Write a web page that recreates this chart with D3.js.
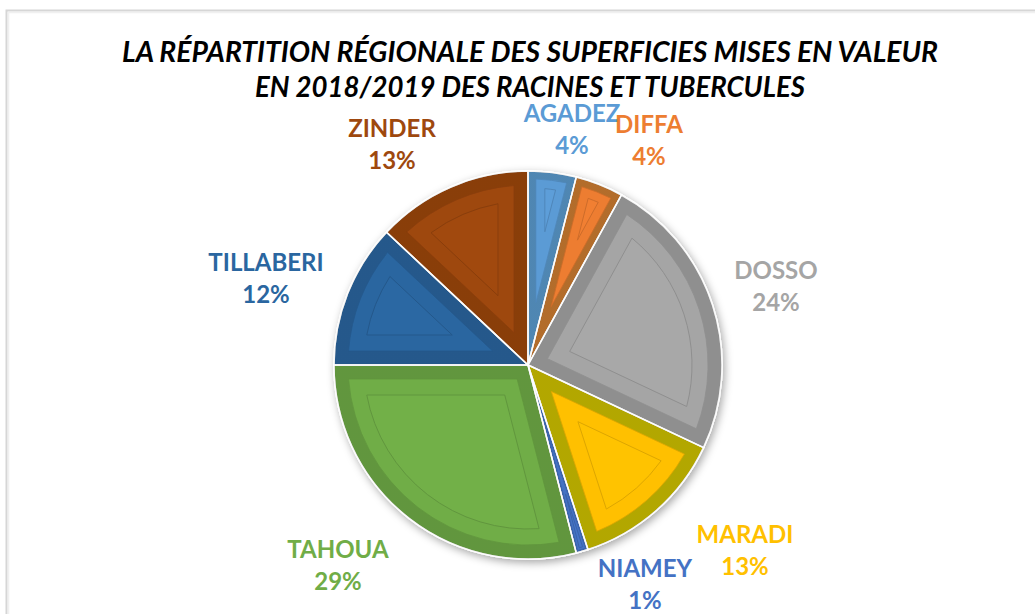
<!DOCTYPE html>
<html><head><meta charset="utf-8">
<script src="https://cdn.jsdelivr.net/npm/d3@7"></script>
<style>html,body{margin:0;padding:0;background:#fff;}svg{display:block;}</style>
</head><body>
<svg id="chart" width="1035" height="614"></svg>
<script>
const categories = ["AGADEZ","DIFFA","DOSSO","MARADI","NIAMEY","TAHOUA","TILLABERI","ZINDER"];
const values = [4,4,24,13,1,29,12,13];
const percentLabels = ["4%","4%","24%","13%","1%","29%","12%","13%"];
const titleLines = ["LA RÉPARTITION RÉGIONALE DES SUPERFICIES MISES EN VALEUR","EN 2018/2019 DES RACINES ET TUBERCULES"];

// layout / style (kept separate from data)
const colors = ["#5B9BD5","#ED7D31","#A5A5A5","#FFC000","#4472C4","#70AD47","#2A66A0","#9E480E"];
const labelAnchors = [[572,122],[649,133],[776,279],[745,543],[645,577],[338,558],[266,271],[392,137]];
const titleWidths = [816, 550];
const cx = 528, cy = 365, R = 194;

const svg = d3.select("#chart");
const defs = svg.append("defs");

// frame
svg.append("rect").attr("x",6.5).attr("y",10.5).attr("width",1040).attr("height",620)
  .attr("fill","none").attr("stroke","#d6d6d6").attr("stroke-width",2);
svg.append("rect").attr("x",8.5).attr("y",12.5).attr("width",1040).attr("height",620)
  .attr("fill","none").attr("stroke","#f0f0f0").attr("stroke-width",1.5);

// title
const title = svg.append("text").attr("text-anchor","middle")
  .attr("font-family","Lato, 'Open Sans', sans-serif").attr("font-weight","bold")
  .attr("font-style","italic").attr("font-size",28).attr("fill","#000");
titleLines.forEach((t,i)=>{
  title.append("tspan").attr("x",530).attr("y",62+i*35)
    .attr("textLength",titleWidths[i]).attr("lengthAdjust","spacingAndGlyphs").text(t);
});

// filters & gradients
const f = defs.append("filter").attr("id","shadow").attr("x","-20%").attr("y","-20%").attr("width","140%").attr("height","140%");
f.append("feDropShadow").attr("dx",2).attr("dy",3).attr("stdDeviation",4).attr("flood-color","#000").attr("flood-opacity",0.35);

colors.forEach((c,i)=>{
  const g = defs.append("linearGradient").attr("id","lg"+i).attr("gradientUnits","userSpaceOnUse")
    .attr("x1",cx-R).attr("y1",cy-R).attr("x2",cx+R).attr("y2",cy+R);
  g.append("stop").attr("offset","0").attr("stop-color",d3.color(c).brighter(0.6));
  g.append("stop").attr("offset","0.5").attr("stop-color",d3.color(c).brighter(0.15));
  g.append("stop").attr("offset","1").attr("stop-color",d3.color(c).darker(0.8));
});
const rg = defs.append("radialGradient").attr("id","rim").attr("gradientUnits","userSpaceOnUse")
  .attr("cx",cx).attr("cy",cy).attr("r",R);
rg.append("stop").attr("offset","0.9").attr("stop-color","#000").attr("stop-opacity",0);
rg.append("stop").attr("offset","0.97").attr("stop-color","#000").attr("stop-opacity",0.1);
rg.append("stop").attr("offset","1").attr("stop-color","#000").attr("stop-opacity",0.3);

const pie = d3.pie().sort(null).value(d=>d.v);
const data = pie(categories.map((c,i)=>({c, v: values[i], i})));
const arc = d3.arc().innerRadius(0).outerRadius(R);

const g = svg.append("g").attr("transform",`translate(${cx},${cy})`);

// inset sector path (bevel plate)
function pt(r,a){ return [r*Math.sin(a), -r*Math.cos(a)]; }
function insetPath(a0,a1,dMax){
  const th = a1-a0;
  const d = Math.min(dMax, R*Math.sin(th/2)*0.3*(dMax/13));
  const Rp = R-d;
  const apexDist = d/Math.sin(th/2);
  const da = Math.asin(d/Rp);
  const b0 = a0+da, b1 = a1-da;
  if (b1<=b0 || apexDist > Rp*0.85) return null;
  const am = (a0+a1)/2;
  const ap = pt(apexDist, am);
  const p0 = pt(Rp,b0), p1 = pt(Rp,b1);
  const large = (b1-b0) > Math.PI ? 1 : 0;
  return `M${ap[0]},${ap[1]}L${p0[0]},${p0[1]}A${Rp},${Rp} 0 ${large} 1 ${p1[0]},${p1[1]}Z`;
}

const base = g.append("g").attr("filter","url(#shadow)");
base.selectAll("path").data(data).join("path")
  .attr("d",arc).attr("fill",d=>`url(#lg${d.data.i})`)
  .attr("stroke","#fff").attr("stroke-width",1.5);

g.append("circle").attr("r",R).attr("fill","url(#rim)").attr("pointer-events","none");
// separators over rim
g.append("g").selectAll("path").data(data).join("path")
  .attr("d",arc).attr("fill","none").attr("stroke","#fff").attr("stroke-width",1.5).attr("stroke-opacity",0.85);

// plates
g.append("g").selectAll("path").data(data).join("path")
  .attr("d",d=>insetPath(d.startAngle,d.endAngle,14))
  .attr("fill",d=>colors[d.data.i])
  .attr("stroke",d=>d3.color(colors[d.data.i]).darker(0.4)).attr("stroke-width",0.8);
g.append("g").selectAll("path").data(data).join("path")
  .attr("d",d=>insetPath(d.startAngle,d.endAngle,30))
  .attr("fill",d=>d3.color(colors[d.data.i]).brighter(0.05))
  .attr("stroke",d=>d3.color(colors[d.data.i]).darker(0.4)).attr("stroke-width",1);

// labels
const lab = svg.append("g").attr("font-family","Lato, 'Open Sans', sans-serif")
  .attr("font-weight","bold").attr("font-size",24).attr("text-anchor","middle");
data.forEach(d=>{
  const i = d.data.i;
  const [x,y] = labelAnchors[i];
  const t = lab.append("text").attr("fill",colors[i]);
  t.append("tspan").attr("x",x).attr("y",y).text(categories[i]);
  t.append("tspan").attr("x",x).attr("y",y+32).text(percentLabels[i]);
});
</script>
</body></html>
